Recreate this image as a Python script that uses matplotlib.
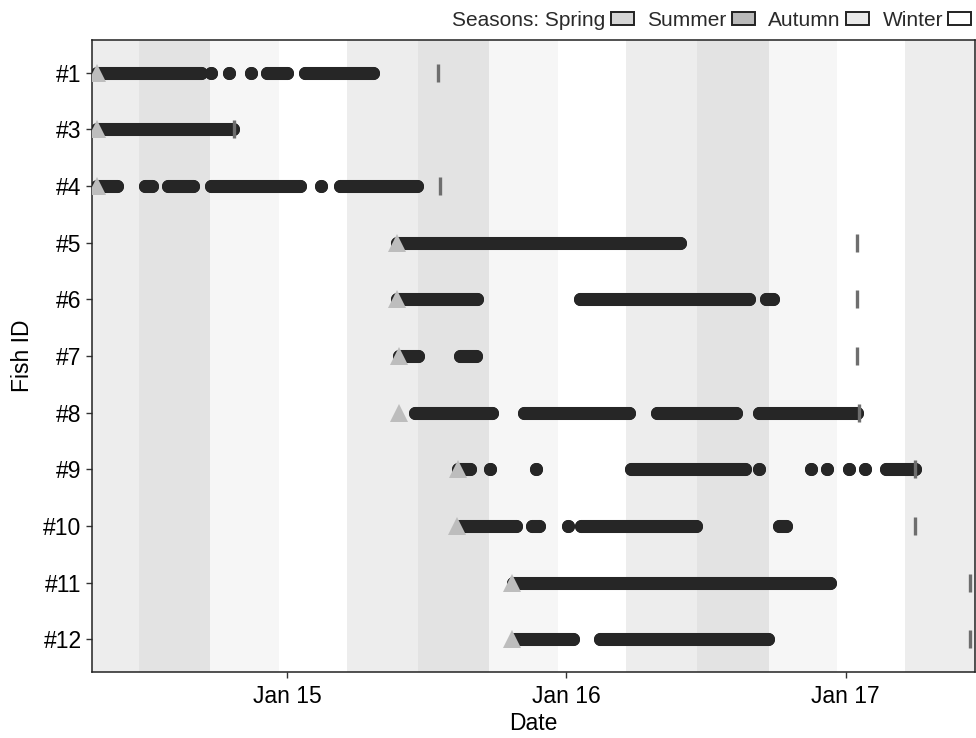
import numpy as np
import pandas as pd
import matplotlib
matplotlib.use("Agg")
import matplotlib.pyplot as plt
import matplotlib.dates as mdates
from matplotlib.patches import Patch

plt.rcParams['font.family'] = ['Liberation Sans', 'DejaVu Sans']

# ---- data ----
fish_ids = ["#1", "#3", "#4", "#5", "#6", "#7", "#8", "#9", "#10", "#11", "#12"]

release = ["2014-04-27", "2014-04-27", "2014-04-27", "2015-05-25", "2015-05-25",
           "2015-05-27", "2015-05-28", "2015-08-13", "2015-08-12", "2015-10-22",
           "2015-10-22"]

tag_end = ["2015-07-18", "2014-10-24", "2015-07-20", "2017-01-15", "2017-01-15",
           "2017-01-16", "2017-01-18", "2017-04-02", "2017-04-02", "2017-06-12",
           "2017-06-12"]

# detection periods (start, end) per fish; single days have start == end
det_1 = [("2014-04-27", "2014-09-11"), ("2014-09-24", "2014-09-24"), ("2014-10-17", "2014-10-17"),
         ("2014-11-15", "2014-11-15"), ("2014-12-06", "2015-01-01"), ("2015-01-24", "2015-04-24")]
det_3 = [("2014-04-27", "2014-10-23")]
det_4 = [("2014-04-27", "2014-05-24"), ("2014-06-29", "2014-07-08"), ("2014-07-29", "2014-08-31"),
         ("2014-09-24", "2015-01-18"), ("2015-02-15", "2015-02-15"), ("2015-03-11", "2015-06-20")]
det_5 = [("2015-05-25", "2016-05-29")]
det_6 = [("2015-05-25", "2015-09-06"), ("2016-01-19", "2016-08-28"), ("2016-09-19", "2016-09-28")]
det_7 = [("2015-05-28", "2015-06-22"), ("2015-08-15", "2015-09-05")]
det_8 = [("2015-06-18", "2015-09-26"), ("2015-11-07", "2016-03-24"), ("2016-04-29", "2016-08-11"),
         ("2016-09-10", "2017-01-15")]
det_9 = [("2015-08-13", "2015-08-28"), ("2015-09-24", "2015-09-24"), ("2015-11-23", "2015-11-23"),
         ("2016-03-26", "2016-08-22"), ("2016-09-09", "2016-09-09"), ("2016-11-17", "2016-11-17"),
         ("2016-12-07", "2016-12-07"), ("2017-01-05", "2017-01-05"), ("2017-01-26", "2017-01-26"),
         ("2017-02-22", "2017-04-01")]
det_10 = [("2015-08-15", "2015-10-28"), ("2015-11-17", "2015-11-27"), ("2016-01-04", "2016-01-04"),
          ("2016-01-21", "2016-06-19"), ("2016-10-06", "2016-10-15")]
det_11 = [("2015-10-24", "2016-12-11")]
det_12 = [("2015-10-26", "2016-01-10"), ("2016-02-14", "2016-09-21")]
detections = [det_1, det_3, det_4, det_5, det_6, det_7, det_8, det_9, det_10, det_11, det_12]

season_names = ["Spring", "Summer", "Autumn", "Winter"]
season_starts = ["03-20", "06-21", "09-22", "12-21"]

# ---- styles ----
band_colors = {"Spring": "#ededed", "Summer": "#e3e3e3", "Autumn": "#f6f6f6", "Winter": "#ffffff"}
key_colors = {"Spring": "#d6d6d6", "Summer": "#bababa", "Autumn": "#e9e9e9", "Winter": "#ffffff"}
dot_col = "#262626"

fig = plt.figure(figsize=(9.76, 7.38), dpi=100)
ax = fig.add_axes([92 / 976, 1 - 672 / 738, (975 - 92) / 976, (672 - 40) / 738])

xmin = pd.Timestamp("2014-04-21")
xmax = pd.Timestamp("2017-06-19")

# season background bands
bounds = []
for yr in range(2013, 2019):
    for name, md in zip(season_names, season_starts):
        bounds.append((pd.Timestamp(f"{yr}-{md}"), name))
bounds.sort()
for (s, name), (e, _) in zip(bounds[:-1], bounds[1:]):
    ax.axvspan(s, e, color=band_colors[name], lw=0, zorder=0)

# detections
for i, runs in enumerate(detections):
    for s, e in runs:
        ax.plot([pd.Timestamp(s), pd.Timestamp(e)], [i, i], color=dot_col, lw=9.4,
                solid_capstyle='round', marker='o', ms=9.4, mew=0, zorder=2)

ypos = np.arange(len(fish_ids))
ax.plot(pd.to_datetime(release), ypos, linestyle='none', marker='^', ms=13,
        color='#bdbdbd', mew=0, zorder=3)
ax.plot(pd.to_datetime(tag_end), ypos, linestyle='none', marker='|', ms=12.5,
        mew=2.4, color='#6e6e6e', zorder=4)

ax.set_xlim(xmin, xmax)
ax.set_ylim(len(fish_ids) - 1 + 0.58, -0.58)
ax.set_yticks(ypos)
ax.set_yticklabels(fish_ids)
ax.xaxis.set_major_locator(mdates.YearLocator())
ax.xaxis.set_major_formatter(mdates.DateFormatter('%b %y'))
ax.tick_params(axis='both', labelsize=16.5, length=4.5, width=1, color='#333333',
               labelcolor='black')
ax.tick_params(axis='x', pad=5)
ax.tick_params(axis='y', pad=3)
for sp in ax.spines.values():
    sp.set_color('#222222')
    sp.set_linewidth(1.1)

ax.set_xlabel("Date", fontsize=16.5, labelpad=3)
ax.set_ylabel("Fish ID", fontsize=16.5, labelpad=7)

handles = [Patch(facecolor=key_colors[n], edgecolor='#222222', lw=1.4) for n in season_names]
labels = ["Seasons: Spring", "Summer", "Autumn", "Winter"]
fig.legend(handles, labels, loc='upper right', bbox_to_anchor=(1.012, 1.008), ncol=4,
           frameon=False, markerfirst=False, fontsize=15, handlelength=1.1,
           handleheight=0.6, handletextpad=0.25, columnspacing=0.65, borderpad=0.3,
           labelcolor='#2a2a2a')

fig.savefig("out.png", dpi=100)
